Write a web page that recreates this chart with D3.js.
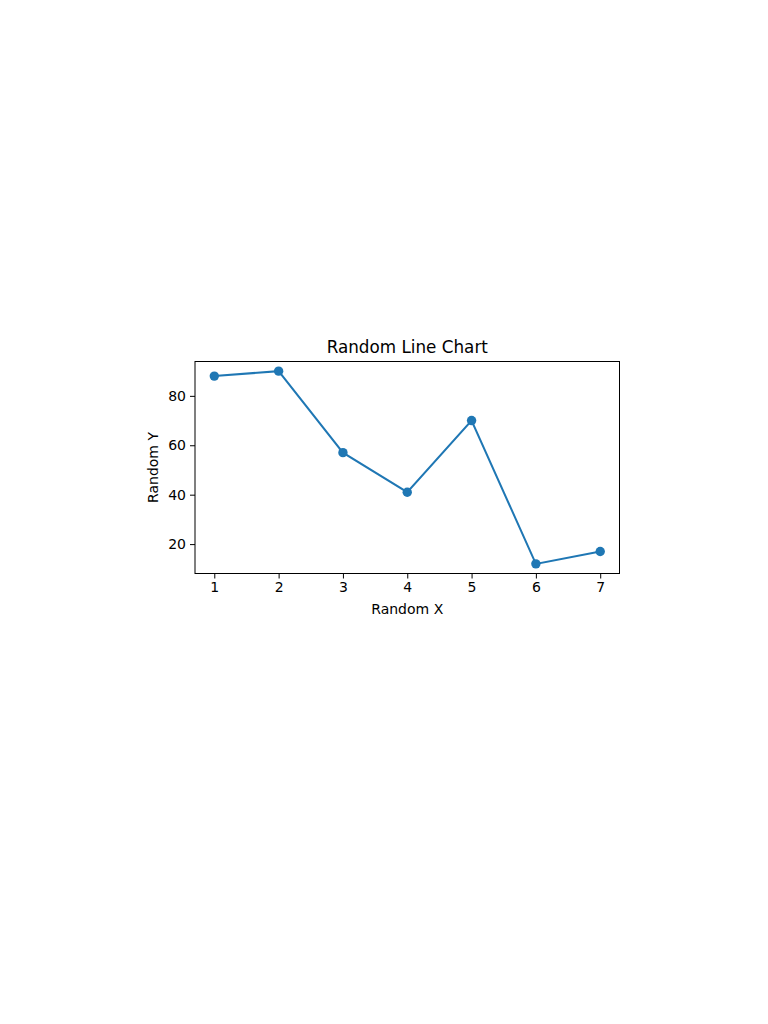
<!DOCTYPE html>
<html>
<head>
<meta charset="utf-8">
<script src="https://cdn.jsdelivr.net/npm/d3@7"></script>
<style>
  body { margin: 0; background: #fff; }
  text { font-family: "DejaVu Sans", sans-serif; fill: #000; }
</style>
</head>
<body>
<div id="chart"></div>
<script>
const xValues = [1, 2, 3, 4, 5, 6, 7];
const yValues = [88, 90, 57, 41, 70, 12, 17];
const xTicks = [1, 2, 3, 4, 5, 6, 7];
const yTicks = [20, 40, 60, 80];

const width = 768, height = 1024;
const margin = {top: 361.5, right: 148.5, bottom: 450.5, left: 195};

const svg = d3.select("#chart")
    .append("svg")
    .attr("width", width)
    .attr("height", height);

// matplotlib-style 5% padding
const xPad = (d3.max(xValues) - d3.min(xValues)) * 0.05;
const yPad = (d3.max(yValues) - d3.min(yValues)) * 0.05;

const xScale = d3.scaleLinear()
    .domain([d3.min(xValues) - xPad, d3.max(xValues) + xPad])
    .range([margin.left, width - margin.right]);

const yScale = d3.scaleLinear()
    .domain([d3.min(yValues) - yPad, d3.max(yValues) + yPad])
    .range([height - margin.bottom, margin.top]);

// x-axis
const xAxis = svg.append("g")
    .attr("transform", `translate(0,${height - margin.bottom})`)
    .call(d3.axisBottom(xScale).tickValues(xTicks).tickFormat(d3.format("d")).tickSize(5).tickPadding(4));

// y-axis
const yAxis = svg.append("g")
    .attr("transform", `translate(${margin.left},0)`)
    .call(d3.axisLeft(yScale).tickValues(yTicks).tickFormat(d3.format("d")).tickSize(5).tickPadding(4));

[xAxis, yAxis].forEach(g => {
    g.select(".domain").remove();
    g.selectAll("text").style("font-size", "14px").attr("fill", "#000");
    g.selectAll("line").attr("stroke", "#000").attr("stroke-width", 1);
});

// frame
svg.append("rect")
    .attr("x", margin.left)
    .attr("y", margin.top)
    .attr("width", width - margin.left - margin.right)
    .attr("height", height - margin.top - margin.bottom)
    .attr("fill", "none")
    .attr("stroke", "#000")
    .attr("stroke-width", 1);

// line
const points = xValues.map((x, i) => [x, yValues[i]]);
svg.append("path")
    .datum(points)
    .attr("fill", "none")
    .attr("stroke", "#1f77b4")
    .attr("stroke-width", 2)
    .attr("d", d3.line().x(d => xScale(d[0])).y(d => yScale(d[1])));

svg.selectAll("circle")
    .data(points)
    .join("circle")
    .attr("cx", d => xScale(d[0]))
    .attr("cy", d => yScale(d[1]))
    .attr("r", 4.7)
    .attr("fill", "#1f77b4");

// title and labels
svg.append("text")
    .attr("x", (margin.left + width - margin.right) / 2)
    .attr("y", margin.top - 8.5)
    .attr("text-anchor", "middle")
    .style("font-size", "16.8px")
    .text("Random Line Chart");

svg.append("text")
    .attr("x", (margin.left + width - margin.right) / 2)
    .attr("y", 614)
    .attr("text-anchor", "middle")
    .style("font-size", "14px")
    .text("Random X");

svg.append("text")
    .attr("transform", "rotate(-90)")
    .attr("x", -(margin.top + height - margin.bottom) / 2)
    .attr("y", 158)
    .attr("text-anchor", "middle")
    .style("font-size", "14px")
    .text("Random Y");
</script>
</body>
</html>
